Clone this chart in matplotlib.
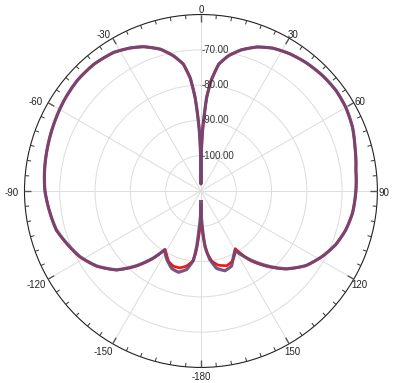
import numpy as np
import matplotlib
matplotlib.use("Agg")
import matplotlib.pyplot as plt
from matplotlib.transforms import offset_copy

plt.rcParams['font.family'] = ['Liberation Sans', 'DejaVu Sans']

# Radiation pattern, angle in degrees (clockwise from 0 at top), level in dB
theta_a = [-180, -179.5, -177, -175.6, -173.8, -169.7, -164.5, -159.5, -153.6, -148.2,
           -144.7, -139.4, -133.1, -125.7, -118.5, -111.3, -105.1, -98.4, -93.3, -90,
           -82.4, -74, -65.4, -56.5, -48.2, -40.1, -32.2, -26.3, -21.7, -16, -11.5, -7.9,
           -5.4, -3.6, -2.6, -1.5, -0.5, 0,
           0.5, 1.5, 2.6, 3.5, 5.3, 8, 11.5, 16, 21.3, 26.7,
           32.8, 39.3, 46.5, 53.3, 59.9, 67.1, 74, 82.3, 90, 98.3,
           105, 111.7, 118.2, 125.4, 132.4, 138.8, 144.6, 150.3, 153.8, 157.9,
           163.2, 168.5, 172.6, 175.9, 177.5, 179.5, 180]
level_a = [-107, -104, -99, -94.3, -90.2, -87.4, -86.1, -86.5, -88.3, -90.4,
           -86.8, -82.2, -77.3, -73.6, -71.0, -69.2, -67.6, -66.8, -66.2, -65.8,
           -65.3, -64.8, -64.2, -63.5, -63.0, -63.0, -63.6, -64.8, -66.0, -68.2, -70.9, -73.7,
           -77.9, -83.4, -88.0, -93.0, -100, -108,
           -100, -93.0, -88.0, -83.4, -78.5, -73.7, -70.9, -68.4, -66.2, -64.7,
           -63.7, -63.0, -62.5, -62.3, -62.6, -63.4, -64.6, -65.7, -66.1, -66.6,
           -67.5, -68.9, -70.9, -73.5, -77.3, -81.9, -86.2, -90.6, -89.2, -87.0,
           -86.4, -87.6, -90.4, -94.3, -99, -104, -107]

theta_b = [-180, -179.5, -177, -175.3, -173.3, -169, -164.5, -160, -155.5, -152, -148.5,
           -144.7, -139.4, -133.1, -125.7, -118.5, -111.3, -105.1, -98.4, -93.3, -90,
           -82.4, -74, -65.4, -56.5, -48.2, -40.1, -32.2, -26.3, -21.7, -16, -11.5, -7.9,
           -5.4, -3.6, -2.6, -1.5, -0.5, 0,
           0.5, 1.5, 2.6, 3.5, 5.3, 8, 11.5, 16, 21.3, 26.7,
           32.8, 39.3, 46.5, 53.3, 59.9, 67.1, 74, 82.3, 90, 98.3,
           105, 111.7, 118.2, 125.4, 132.4, 138.8, 144.6, 149.3, 152.5, 156,
           160.8, 166.8, 171, 174.5, 176.8, 179.5, 180]
level_b = [-106, -102, -96.5, -92.5, -90.0, -88.3, -87.4, -87.3, -88.0, -89.4, -90.6,
           -86.6, -82.0, -77.2, -73.5, -70.9, -69.1, -67.5, -66.8, -66.2, -65.8,
           -65.3, -64.8, -64.2, -63.5, -63.0, -63.0, -63.6, -64.8, -66.0, -68.2, -70.9, -73.7,
           -77.9, -83.4, -88.0, -93.0, -100, -108,
           -100, -93.0, -88.0, -83.4, -78.5, -73.7, -70.9, -68.4, -66.2, -64.7,
           -63.7, -63.0, -62.5, -62.3, -62.6, -63.4, -64.6, -65.7, -66.1, -66.6,
           -67.5, -68.9, -70.9, -73.5, -77.2, -81.6, -85.8, -91.0, -89.4, -88.2,
           -87.6, -88.4, -89.8, -92.5, -96.5, -102, -106]

angle_ticks = [0, 30, 60, 90, 120, 150, 180, 210, 240, 270, 300, 330]
angle_labels = ['0', '30', '60', '90', '120', '150', '-180', '-150', '-120', '-90', '-60', '-30']
ring_values = [-100, -90, -80, -70]
ring_labels = ['-100.00', '-90.00', '-80.00', '-70.00']
r_min, r_max = -110, -60

fig = plt.figure(figsize=(3.93, 3.83), dpi=100)
ax = fig.add_axes([0.0623, 0.0405, 0.898, 0.9217], projection='polar')
ax.set_theta_zero_location('N')
ax.set_theta_direction(-1)
ax.set_ylim(r_min, r_max)

# traces (segments follow the polar grid instead of straight chords)
ln_b, = ax.plot(np.deg2rad(theta_b), level_b, color='#ff1010', lw=1.9, zorder=3)
ln_a, = ax.plot(np.deg2rad(theta_a), level_a, color='#6e4877', lw=2.3, alpha=0.92, zorder=4)
for ln in (ln_a, ln_b):
    ln.get_path()._interpolation_steps = 40
    ln.set_solid_joinstyle('round')

# angular grid and labels
ax.set_xticks(np.deg2rad(angle_ticks))
ax.set_xticklabels([])
ax.tick_params(axis='x', which='both', length=0)

px_per_db = (ax.get_position().width * fig.get_figwidth() * fig.dpi / 2) / (r_max - r_min)
minor_deg = np.arange(0, 360, 5)
minor_deg = minor_deg[minor_deg % 30 != 0]
ax.vlines(np.deg2rad(minor_deg), r_max - 4 / px_per_db, r_max,
          colors='#333333', lw=0.7, zorder=5, clip_on=False)
ax.vlines(np.deg2rad(angle_ticks), r_max - 7 / px_per_db, r_max,
          colors='#555555', lw=1.0, zorder=5, clip_on=False)

label_gap = 7.0     # px beyond the outer ring
label_drop = 2.5    # px downward shift
for deg, lab in zip(angle_ticks, angle_labels):
    a = np.deg2rad(deg)
    dx = label_gap * np.sin(a)
    dy = label_gap * np.cos(a) - label_drop
    if lab.startswith('-') and 180 < deg < 360:
        dx -= 6
    tr = offset_copy(ax.transData, fig=fig, x=dx, y=dy, units='dots')
    ax.text(a, r_max, lab, ha='center', va='center', fontsize=7, color='#222222',
            transform=tr, clip_on=False)

# radial axis
ax.set_yticks(ring_values)
ax.set_yticklabels([])
ax.grid(True, color='#dcdcdc', lw=0.7)
ax.spines['polar'].set_color('#222222')
ax.spines['polar'].set_linewidth(0.8)

trans = offset_copy(ax.transData, fig=fig, x=0.5, y=0, units='dots')
for v, lab in zip(ring_values, ring_labels):
    ax.text(0, v, lab, ha='left', va='center', fontsize=7, color='#333333',
            transform=trans, zorder=6)

fig.savefig('out.png', dpi=100)
